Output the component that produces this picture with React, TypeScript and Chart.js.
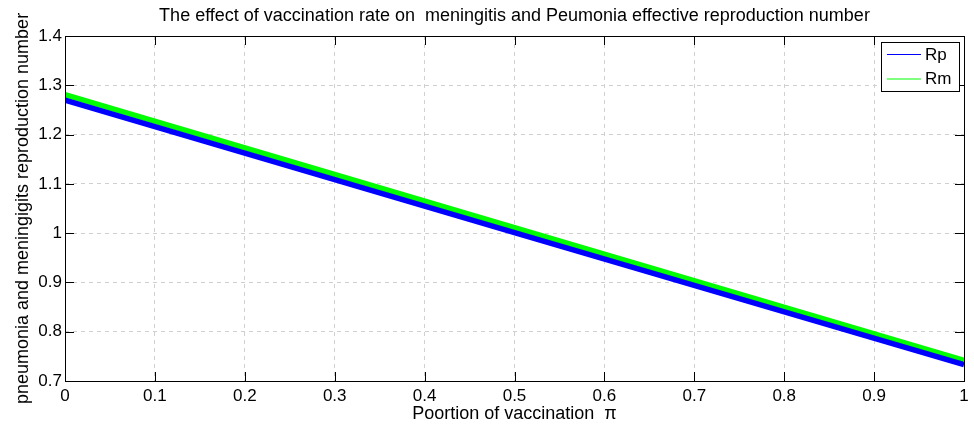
import React, { useEffect, useRef } from "react";
import { Chart, registerables } from "chart.js";

Chart.register(...registerables);

const titleText = "The effect of vaccination rate on  meningitis and Peumonia effective reproduction number";
const xTitle = "Poortion of vaccination  \u03c0";
const yTitle = "pneumonia and meningigits reproduction number";

const xValues = [0, 0.5, 1];
const rpValues = [1.27, 1.001, 0.733];
const rmValues = [1.281, 1.011, 0.742];

const xTicks = [0, 0.1, 0.2, 0.3, 0.4, 0.5, 0.6, 0.7, 0.8, 0.9, 1];
const xTickLabels = ["0", "0.1", "0.2", "0.3", "0.4", "0.5", "0.6", "0.7", "0.8", "0.9", "1"];
const yTicks = [0.7, 0.8, 0.9, 1, 1.1, 1.2, 1.3, 1.4];
const yTickLabels = ["0.7", "0.8", "0.9", "1", "1.1", "1.2", "1.3", "1.4"];

const seriesNames = ["Rp", "Rm"];
const seriesColors = ["#0000ff", "#00ff00"];

const FONT = "'Liberation Sans', Arial, Helvetica, sans-serif";

const decorPlugin = {
  id: "decor",
  afterDraw(chart: any) {
    const ctx = chart.ctx;
    const a = chart.chartArea;
    const xs = chart.scales.x;
    const ys = chart.scales.y;
    ctx.save();
    // box
    ctx.strokeStyle = "#000";
    ctx.lineWidth = 1;
    ctx.setLineDash([]);
    ctx.strokeRect(Math.round(a.left) + 0.5, Math.round(a.top) + 0.5, Math.round(a.right - a.left), Math.round(a.bottom - a.top));
    // inward ticks
    const tl = 9;
    ctx.beginPath();
    xTicks.forEach((v) => {
      const px = Math.round(xs.getPixelForValue(v)) + 0.5;
      ctx.moveTo(px, a.bottom);
      ctx.lineTo(px, a.bottom - tl);
      ctx.moveTo(px, a.top);
      ctx.lineTo(px, a.top + tl);
    });
    yTicks.forEach((v) => {
      const py = Math.round(ys.getPixelForValue(v)) + 0.5;
      ctx.moveTo(a.left, py);
      ctx.lineTo(a.left + tl, py);
      ctx.moveTo(a.right, py);
      ctx.lineTo(a.right - tl, py);
    });
    ctx.stroke();

    // title
    ctx.fillStyle = "#000";
    ctx.font = `18px ${FONT}`;
    ctx.textAlign = "center";
    ctx.textBaseline = "middle";
    ctx.fillText(titleText, (a.left + a.right) / 2, 16);
    // x title
    ctx.font = `18px ${FONT}`;
    ctx.fillText(xTitle, (a.left + a.right) / 2, 414);
    // y title
    ctx.save();
    ctx.translate(23, (a.top + a.bottom) / 2);
    ctx.rotate(-Math.PI / 2);
    ctx.font = `18px ${FONT}`;
    ctx.fillText(yTitle, 0, 0);
    ctx.restore();

    // legend
    const lx = 881, ly = 42, lw = 78, lh = 49;
    ctx.fillStyle = "#fff";
    ctx.fillRect(lx, ly, lw, lh);
    ctx.strokeStyle = "#000";
    ctx.strokeRect(lx + 0.5, ly + 0.5, lw, lh);
    ctx.font = `17px ${FONT}`;
    ctx.textAlign = "left";
    ctx.textBaseline = "middle";
    const rows = [54, 78.5];
    seriesNames.forEach((n, i) => {
      ctx.strokeStyle = seriesColors[i];
      ctx.lineWidth = 1;
      ctx.beginPath();
      ctx.moveTo(887, rows[i] + 0.5);
      ctx.lineTo(921, rows[i] + 0.5);
      ctx.stroke();
      ctx.fillStyle = "#000";
      ctx.fillText(n, 925, rows[i] + 1);
    });
    ctx.restore();
  },
};

export default function App() {
  const ref = useRef<HTMLCanvasElement>(null);
  useEffect(() => {
    document.body.style.margin = "0";
    const canvas = ref.current!;
    const chart = new Chart(canvas, {
      type: "line",
      data: {
        datasets: [
          {
            label: seriesNames[0],
            data: xValues.map((x, i) => ({ x, y: rpValues[i] })),
            borderColor: seriesColors[0],
            backgroundColor: seriesColors[0],
            borderWidth: 5.5,
            pointRadius: 0,
            tension: 0,
          },
          {
            label: seriesNames[1],
            data: xValues.map((x, i) => ({ x, y: rmValues[i] })),
            borderColor: seriesColors[1],
            backgroundColor: seriesColors[1],
            borderWidth: 5.5,
            pointRadius: 0,
            tension: 0,
          },
        ],
      },
      options: {
        animation: false,
        responsive: false,
        devicePixelRatio: 1,
        layout: { padding: { top: 36, right: 10, left: 0, bottom: 0 } },
        plugins: { legend: { display: false }, title: { display: false }, tooltip: { enabled: false } },
        scales: {
          x: {
            type: "linear",
            min: 0,
            max: 1,
            afterBuildTicks: (s: any) => {
              s.ticks = xTicks.map((v) => ({ value: v }));
            },
            afterFit: (s: any) => {
              s.height = 47;
            },
            ticks: {
              padding: 5,
              color: "#000",
              font: { family: FONT, size: 17 },
              maxRotation: 0,
              autoSkip: false,
              callback: (v: any) => {
                const i = xTicks.findIndex((t) => Math.abs(t - v) < 1e-9);
                return i >= 0 ? xTickLabels[i] : "";
              },
            },
            grid: { color: "#d0d0d0", drawTicks: false, lineWidth: 1 },
            border: { display: false, dash: [4, 4] },
          },
          y: {
            type: "linear",
            min: 0.7,
            max: 1.4,
            afterBuildTicks: (s: any) => {
              s.ticks = yTicks.map((v) => ({ value: v }));
            },
            afterFit: (s: any) => {
              s.width = 65;
            },
            ticks: {
              padding: 3,
              color: "#000",
              font: { family: FONT, size: 17 },
              autoSkip: false,
              callback: (v: any) => {
                const i = yTicks.findIndex((t) => Math.abs(t - v) < 1e-9);
                return i >= 0 ? yTickLabels[i] : "";
              },
            },
            grid: { color: "#d0d0d0", drawTicks: false, lineWidth: 1 },
            border: { display: false, dash: [4, 4] },
          },
        },
      },
      plugins: [decorPlugin],
    } as any);
    return () => chart.destroy();
  }, []);
  return (
    <div style={{ position: "absolute", left: 0, top: 0, width: 974, height: 428, background: "#fff" }}>
      <canvas ref={ref} width={974} height={428} />
    </div>
  );
}
